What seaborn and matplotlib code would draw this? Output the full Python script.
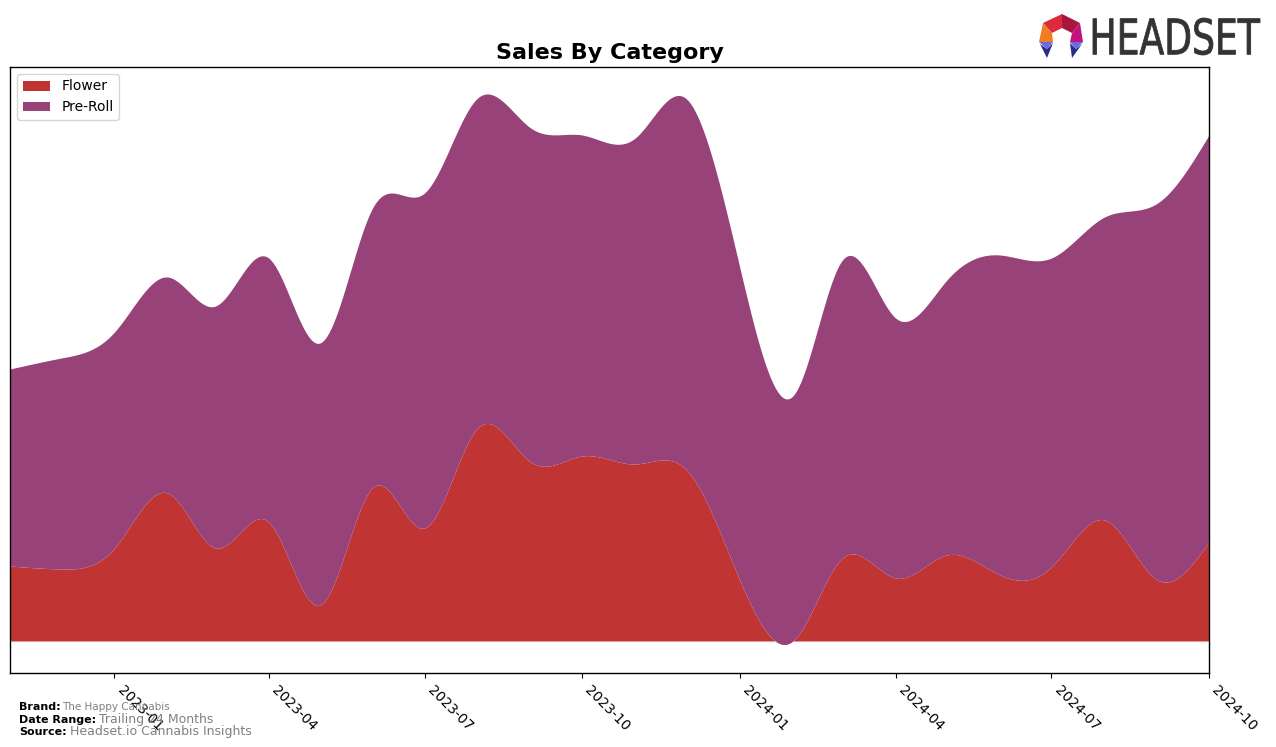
import numpy as np
import pandas as pd
import matplotlib
matplotlib.use('Agg')
import matplotlib.pyplot as plt
import matplotlib.dates as mdates
from matplotlib.patches import Polygon, PathPatch
from matplotlib.textpath import TextPath
from matplotlib.font_manager import FontProperties
from matplotlib.transforms import Affine2D, IdentityTransform
import seaborn as sns

# monthly sales (arbitrary units)
months = pd.date_range('2022-11-01', '2024-10-01', freq='MS')
flower = [75, 72, 93, 148, 93, 119, 36, 154, 113, 213, 179, 185,
          177, 171, 61, 0, 83, 63, 86, 66, 74, 121, 61, 99]
pre_roll = [197, 211, 216, 216, 242, 264, 262, 280, 335, 330, 334, 321,
            326, 371, 313, 245, 298, 260, 275, 320, 309, 303, 377, 407]
categories = ['Flower', 'Pre-Roll']
colors = ['#c13434', '#974279']

brand = 'The Happy Cannabis'
date_range = 'Trailing 24 Months'
source = 'Headset.io Cannabis Insights'


def smooth(x, y, n=800):
    # natural cubic spline, only used to draw the curve between the monthly values
    x = np.asarray(x, float)
    y = np.asarray(y, float)
    h = np.diff(x)
    m = len(x)
    A = np.zeros((m, m))
    b = np.zeros(m)
    A[0, 0] = A[-1, -1] = 1
    for i in range(1, m - 1):
        A[i, i - 1] = h[i - 1]
        A[i, i] = 2 * (h[i - 1] + h[i])
        A[i, i + 1] = h[i]
        b[i] = 6 * ((y[i + 1] - y[i]) / h[i] - (y[i] - y[i - 1]) / h[i - 1])
    M = np.linalg.solve(A, b)
    xs = np.linspace(x[0], x[-1], n)
    j = np.clip(np.searchsorted(x, xs) - 1, 0, m - 2)
    t0, t1 = x[j], x[j + 1]
    hh = t1 - t0
    a = (t1 - xs) / hh
    c = (xs - t0) / hh
    ys = a * y[j] + c * y[j + 1] + ((a ** 3 - a) * M[j] + (c ** 3 - c) * M[j + 1]) * hh ** 2 / 6
    return xs, ys


sns.set_style('ticks')
plt.rcParams['font.family'] = ['DejaVu Sans']
plt.rcParams['xtick.major.size'] = 3.5
plt.rcParams['axes.edgecolor'] = 'black'
plt.rcParams['axes.linewidth'] = 1.0
plt.rcParams['text.color'] = 'black'
plt.rcParams['xtick.color'] = 'black'
plt.rcParams['axes.labelcolor'] = 'black'

W, H = 1276, 747
fig = plt.figure(figsize=(W / 100, H / 100), dpi=100)
ax = fig.add_axes([10 / W, (H - 673) / H, 1199 / W, 606 / H])

xnum = mdates.date2num(months)
xs, fs = smooth(xnum, flower)
_, ps = smooth(xnum, pre_roll)
xdt = mdates.num2date(xs)

ax.stackplot(xdt, fs, ps, labels=categories, colors=colors, linewidth=0)
ax.set_xlim(xdt[0], xdt[-1])
ax.set_ylim(-32, 574)
ax.set_yticks([])
ax.xaxis.set_major_locator(mdates.MonthLocator(bymonth=[1, 4, 7, 10]))
ax.xaxis.set_major_formatter(mdates.DateFormatter('%Y-%m'))
plt.setp(ax.get_xticklabels(), rotation=-45, ha='left', rotation_mode='default', fontsize=10)
ax.set_title('Sales By Category', fontsize=16, fontweight='bold', color='black')
ax.legend(loc='upper left', fontsize=10)

# footer
fig.text(19 / W, 1 - 710 / H, 'Brand:', fontsize=8, fontweight='bold')
fig.text(62 / W, 1 - 710 / H, brand, fontsize=7.5, color='#808080')
fig.text(19 / W, 1 - 723 / H, 'Date Range:', fontsize=8, fontweight='bold')
fig.text(99 / W, 1 - 723 / H, date_range, fontsize=9, color='#808080')
fig.text(19 / W, 1 - 735 / H, 'Source:', fontsize=8, fontweight='bold')
fig.text(70 / W, 1 - 735 / H, source, fontsize=9, color='#808080')

# logo
tp = TextPath((0, 0), 'HEADSET', size=1, prop=FontProperties(family='DejaVu Sans'))
bb = tp.get_extents()
x0, x1, ytop, ybot = 1093, 1260, 18, 55
sx = (x1 - x0) / bb.width
sy = (ybot - ytop) / bb.height
tr = Affine2D().translate(-bb.x0, -bb.y0).scale(sx, sy).translate(x0, H - ybot)
fig.add_artist(PathPatch(tr.transform_path(tp), facecolor='#333333', edgecolor='#333333',
                         linewidth=0.6, transform=IdentityTransform()))

pieces = [
    ([(1043, 23), (1062, 14), (1062, 28), (1052, 33)], '#dc2b3b'),
    ([(1062, 14), (1080, 23), (1072, 33), (1062, 28)], '#a8153f'),
    ([(1043, 23), (1052, 33), (1053, 42), (1039, 42)], '#f07d22'),
    ([(1080, 23), (1083, 42), (1070, 42), (1072, 33)], '#c2127c'),
    ([(1039, 42), (1053, 42), (1047, 49)], '#6a6ae6'),
    ([(1040, 44), (1047, 49), (1053, 43), (1047, 58)], '#2c2c88'),
    ([(1070, 42), (1083, 42), (1076, 49)], '#6a6ae6'),
    ([(1070, 43), (1076, 49), (1082, 44), (1072, 58)], '#2c2c88'),
]
for pts, col in pieces:
    fig.add_artist(Polygon([(px / W, 1 - py / H) for px, py in pts], closed=True,
                           facecolor=col, edgecolor='none', transform=fig.transFigure))

fig.savefig('out.png', dpi=100)
